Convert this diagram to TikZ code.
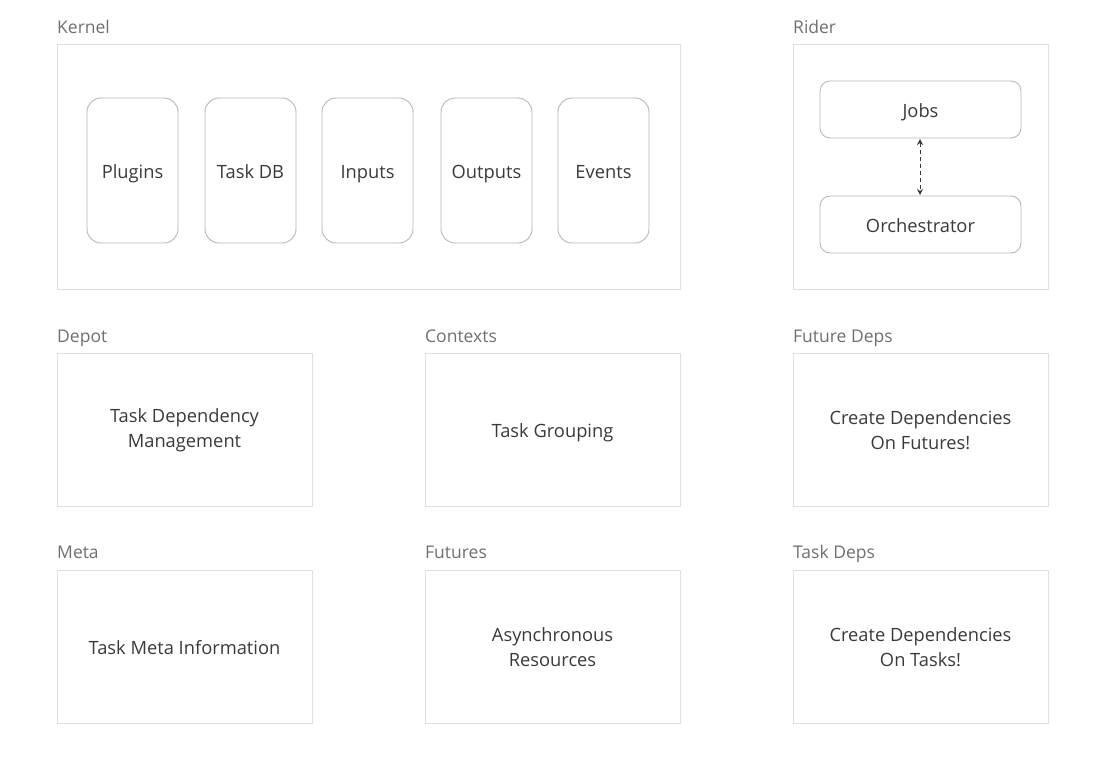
\documentclass[tikz,border=0pt]{standalone}
\usepackage{fontspec}
\setmainfont{Open Sans}
\usetikzlibrary{arrows.meta}
\definecolor{txt}{HTML}{3A3A3A}
\definecolor{lbl}{HTML}{707070}
\definecolor{outer}{HTML}{E0E0E0}
\definecolor{inner}{HTML}{B8B8B8}
\begin{document}
\begin{tikzpicture}[x=1pt,y=-1pt,
  outerbox/.style={draw=outer,line width=1pt},
  innerbox/.style={draw=inner,line width=0.9pt,rounded corners=14pt},
  innerbox2/.style={draw=inner,line width=0.9pt,rounded corners=10pt},
  grouplabel/.style={anchor=base west,inner sep=0pt,text=lbl,font=\fontsize{17.5}{21}\selectfont},
  body/.style={text=txt,font=\fontsize{18.3}{25}\selectfont,align=center,inner sep=0pt},
  one/.style={body,text height=16pt,text depth=1pt}]
\useasboundingbox (0,0) rectangle (1108,770);
\fill[white] (0,0) rectangle (1108,770);
% Kernel
\node[grouplabel] (lk) at (57,34) {Kernel};
\draw[outerbox] (57,45) rectangle (680,289);
\foreach \n/\x/\t in {plugins/87/Plugins,taskdb/205/Task DB,inputs/322/Inputs,outputs/441/Outputs,events/558/Events}{
  \draw[innerbox] (\x,98) rectangle (\x+91,243);
  \node[one] (\n) at (\x+45.5,171) {\t};
}
% Rider
\node[grouplabel] (lr) at (793,34) {Rider};
\draw[outerbox] (793,45) rectangle (1048,289);
\draw[innerbox2] (820,81) rectangle (1021,138);
\node[one] (jobs) at (920.5,110) {Jobs};
\draw[innerbox2] (820,196) rectangle (1021,253);
\node[one] (orch) at (920.5,225) {Orchestrator};
\coordinate (ja) at (920,139);
\coordinate (oa) at (920,195);
\draw[txt,dashed,dash pattern=on 4pt off 3pt,line width=1pt,{Stealth[length=6pt,width=6pt]}-{Stealth[length=6pt,width=6pt]}] (ja) -- (oa);
% Row 2
\node[grouplabel] (ld) at (57,342) {Depot};
\draw[outerbox] (57,353) rectangle (312,506);
\node[body] (depot) at (184.5,430) {Task Dependency\\Management};
\node[grouplabel] (lc) at (425,342) {Contexts};
\draw[outerbox] (425,353) rectangle (680,506);
\node[one] (ctx) at (552.5,430) {Task Grouping};
\node[grouplabel] (lf) at (793,342) {Future Deps};
\draw[outerbox] (793,353) rectangle (1048,506);
\node[body] (fdeps) at (920.5,430) {Create Dependencies\\On Futures!};
% Row 3
\node[grouplabel] (lm) at (57,558) {Meta};
\draw[outerbox] (57,570) rectangle (312,723);
\node[one] (meta) at (184.5,647) {Task Meta Information};
\node[grouplabel] (lfu) at (425,558) {Futures};
\draw[outerbox] (425,570) rectangle (680,723);
\node[body] (fut) at (552.5,647) {Asynchronous\\Resources};
\node[grouplabel] (lt) at (793,558) {Task Deps};
\draw[outerbox] (793,570) rectangle (1048,723);
\node[body] (tdeps) at (920.5,647) {Create Dependencies\\On Tasks!};
\end{tikzpicture}
\end{document}
